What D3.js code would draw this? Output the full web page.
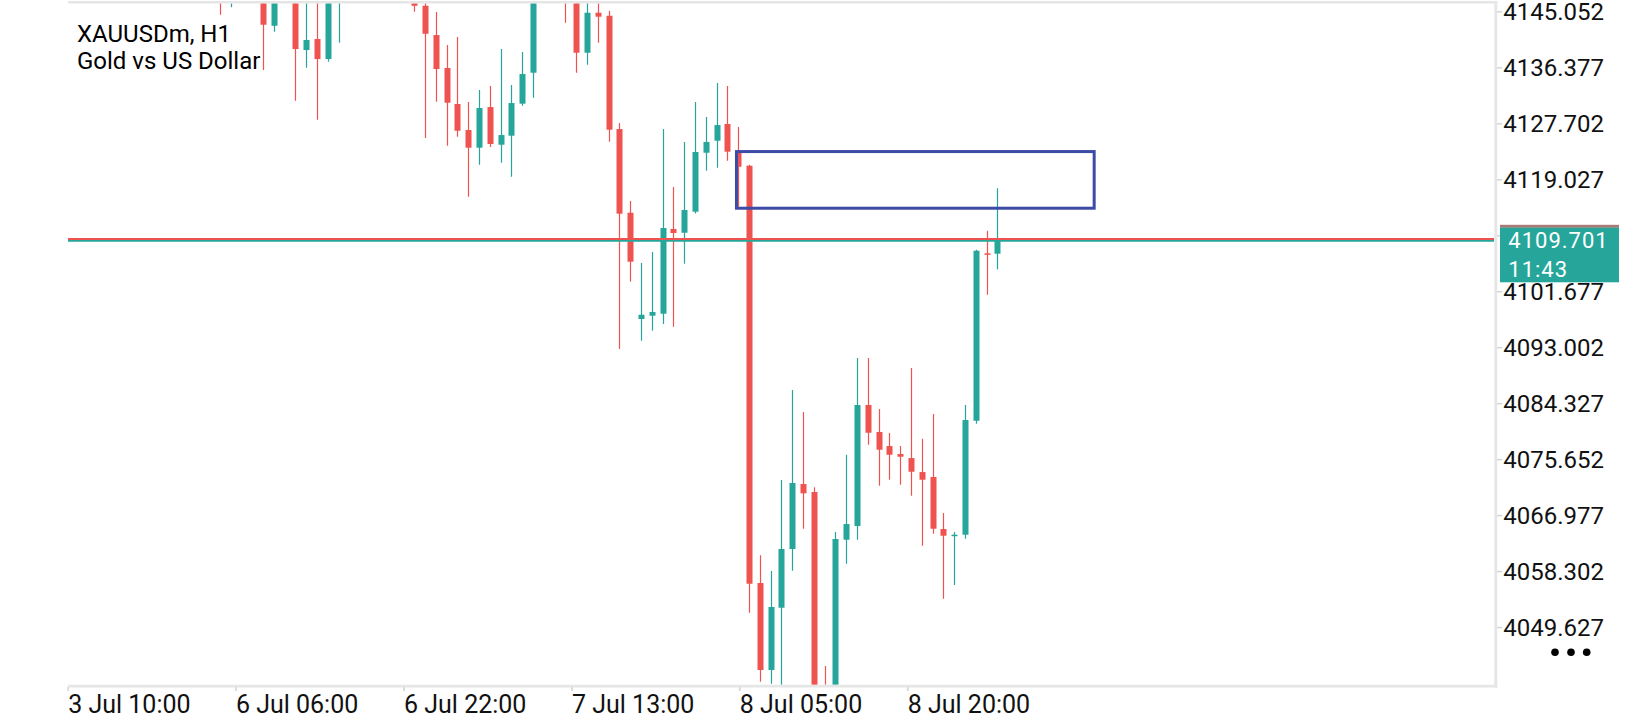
<!DOCTYPE html>
<html>
<head>
<meta charset="utf-8">
<script src="https://cdn.jsdelivr.net/npm/d3@7"></script>
<style>
  html, body { margin: 0; padding: 0; background: #ffffff; }
  svg { display: block; font-family: Roboto, "Noto Sans", sans-serif; }
</style>
</head>
<body>
<svg id="chart" width="1640" height="720"></svg>
<script>
// ---------------- DATA ----------------
const symbolTitle = "XAUUSDm, H1";
const symbolName = "Gold vs US Dollar";

// H1 candles, oldest first (bars left of the view's top edge are partly off-screen)
const opens = [
  4158.2, 4160.1, 4159.3, 4156.6, 4157.8, 4161.4, 4160.2, 4157.5, 4155.0, 4153.1,
  4154.7, 4151.4, 4149.8, 4150.3, 4147.2, 4150.5, 4151.8, 4149.0, 4142.90, 4148.6,
  4150.6, 4139.14, 4140.84, 4137.74, 4147.6, 4150.2, 4152.5, 4154.8, 4153.4, 4151.2,
  4149.6, 4148.3, 4146.00, 4141.46, 4136.35, 4130.77, 4126.74, 4124.00, 4130.30, 4124.46,
  4125.86, 4130.82, 4135.62, 4147.5, 4149.9, 4148.2, 4147.0, 4138.72, 4144.92, 4144.45,
  4126.89, 4113.92, 4097.45, 4097.96, 4098.27, 4111.40, 4110.82, 4114.08, 4123.22, 4125.08,
  4127.67, 4123.38, 4121.21, 4056.53, 4043.05, 4052.70, 4061.80, 4071.87, 4070.63, 4039.50,
  4033.40, 4063.24, 4065.36, 4084.12, 4079.93, 4077.76, 4076.52, 4075.90, 4073.73, 4072.96,
  4064.90, 4063.81, 4064.02, 4081.68, 4107.63, 4107.57
];
const highs = [
  4161.0, 4163.5, 4160.8, 4158.4, 4162.2, 4164.0, 4161.7, 4159.3, 4156.6, 4155.9,
  4156.3, 4153.0, 4151.2, 4151.0, 4151.5, 4152.8, 4153.0, 4150.2, 4150.0, 4151.5,
  4151.8, 4147.5, 4147.3, 4149.0, 4151.6, 4153.9, 4156.0, 4157.2, 4155.0, 4152.9,
  4151.3, 4149.0, 4146.9, 4145.03, 4139.91, 4141.15, 4131.08, 4132.94, 4133.56, 4139.29,
  4133.71, 4138.83, 4149.0, 4150.8, 4151.4, 4149.5, 4148.6, 4147.2, 4146.8, 4145.18,
  4127.82, 4115.74, 4106.13, 4107.83, 4126.89, 4117.91, 4124.88, 4131.08, 4128.75, 4134.02,
  4133.56, 4127.20, 4121.36, 4060.82, 4058.39, 4072.49, 4086.44, 4083.03, 4071.36, 4043.67,
  4064.43, 4076.41, 4091.40, 4091.40, 4083.50, 4079.78, 4077.76, 4089.85, 4078.89, 4082.72,
  4067.38, 4064.43, 4084.12, 4108.19, 4111.13, 4117.70
];
const lows = [
  4156.4, 4158.9, 4155.7, 4153.9, 4156.9, 4159.5, 4156.8, 4154.2, 4151.8, 4151.2,
  4150.6, 4148.9, 4147.6, 4144.61, 4145.76, 4148.6, 4147.9, 4136.04, 4141.97, 4147.2,
  4131.28, 4136.40, 4128.34, 4137.33, 4140.27, 4148.3, 4151.0, 4152.6, 4150.1, 4148.5,
  4147.4, 4145.07, 4125.50, 4131.13, 4124.31, 4125.70, 4116.40, 4121.36, 4124.10, 4121.67,
  4119.50, 4130.50, 4131.75, 4146.6, 4147.0, 4143.37, 4135.62, 4136.86, 4140.27, 4124.93,
  4092.80, 4103.23, 4094.08, 4095.63, 4096.67, 4096.25, 4106.02, 4113.80, 4120.43, 4120.90,
  4121.98, 4114.85, 4051.93, 4041.23, 4040.92, 4040.30, 4058.44, 4064.95, 4036.80, 4031.50,
  4031.80, 4059.52, 4063.24, 4077.96, 4071.61, 4072.54, 4071.76, 4070.06, 4062.31, 4064.17,
  4054.10, 4056.22, 4063.40, 4081.22, 4101.21, 4105.15
];
const closes = [
  4160.1, 4159.3, 4156.6, 4157.8, 4161.4, 4160.2, 4157.5, 4155.0, 4153.1, 4154.7,
  4151.4, 4149.8, 4150.3, 4147.2, 4150.5, 4151.8, 4149.0, 4143.06, 4148.6, 4150.8,
  4139.29, 4140.69, 4137.74, 4147.8, 4150.2, 4152.5, 4154.8, 4153.4, 4151.2, 4149.6,
  4148.3, 4146.00, 4141.66, 4136.19, 4130.97, 4126.63, 4124.00, 4130.15, 4124.57, 4125.96,
  4130.92, 4135.42, 4147.5, 4149.9, 4148.2, 4147.0, 4138.72, 4144.92, 4144.30, 4126.79,
  4113.77, 4106.33, 4098.11, 4098.53, 4111.55, 4110.78, 4114.34, 4123.33, 4124.88, 4127.51,
  4123.38, 4121.05, 4056.42, 4043.05, 4052.81, 4061.80, 4072.03, 4070.43, 4039.00, 4033.00,
  4063.35, 4065.67, 4084.12, 4079.82, 4077.19, 4076.41, 4076.10, 4073.78, 4072.54, 4064.95,
  4063.86, 4064.02, 4081.79, 4108.03, 4107.41, 4109.70
];

// price axis
const yTicks = [4145.052, 4136.377, 4127.702, 4119.027, 4110.352, 4101.677,
                4093.002, 4084.327, 4075.652, 4066.977, 4058.302, 4049.627];
// time axis: labels and the bar slot they sit at
const xTickLabels = ["3 Jul 10:00", "6 Jul 06:00", "6 Jul 22:00", "7 Jul 13:00", "8 Jul 05:00", "8 Jul 20:00"];
const xTickSlots  = [-1.04, 14.49, 30.06, 45.61, 61.15, 76.70];

// rectangle object (bar slots and prices)
const zoneSlots = [60.84, 93.96];
const zonePrices = [4123.40, 4114.62];

// price lines
const askLine = 4109.86;
const bidLine = 4109.56;
const bidLabel = "4109.701";
const barCountdown = "11:43";

// view window
const slotDomain = [-1.056, 131.01];
const priceDomain = [4040.77, 4146.38];

// ---------------- DRAW ----------------
const W = 1640, H = 720;
const plot = { left: 68, right: 1494.3, top: 3.3, bottom: 684.7 };
const UP = "#26a69a", DOWN = "#ef5350", FRAME = "#e6e6e6";

const svg = d3.select("#chart");
svg.append("rect").attr("width", W).attr("height", H).attr("fill", "#fff");

const x = d3.scaleLinear().domain(slotDomain).range([plot.left, plot.right]);
const y = d3.scaleLinear().domain(priceDomain).range([plot.bottom, plot.top]);

svg.append("clipPath").attr("id", "plotclip")
  .append("rect")
  .attr("x", plot.left).attr("y", plot.top)
  .attr("width", plot.right - plot.left).attr("height", plot.bottom - plot.top);

const candles = opens.map((o, i) => ({ i, o, h: highs[i], l: lows[i], c: closes[i] }));

const g = svg.append("g").attr("clip-path", "url(#plotclip)");

const cg = g.selectAll("g.candle").data(candles).join("g").attr("class", "candle");
cg.append("line")
  .attr("x1", d => Math.round(x(d.i)) + 0.5)
  .attr("x2", d => Math.round(x(d.i)) + 0.5)
  .attr("y1", d => y(d.h))
  .attr("y2", d => y(d.l))
  .attr("stroke", d => d.c >= d.o ? UP : DOWN)
  .attr("stroke-width", 1.2);
cg.append("rect")
  .attr("x", d => Math.round(x(d.i)) + 0.5 - 3)
  .attr("width", 6)
  .attr("y", d => y(Math.max(d.o, d.c)))
  .attr("height", d => Math.max(1.5, Math.abs(y(d.o) - y(d.c))))
  .attr("fill", d => d.c >= d.o ? UP : DOWN);

// rectangle zone
g.append("rect")
  .attr("x", x(zoneSlots[0]))
  .attr("y", y(zonePrices[0]))
  .attr("width", x(zoneSlots[1]) - x(zoneSlots[0]))
  .attr("height", y(zonePrices[1]) - y(zonePrices[0]))
  .attr("fill", "none")
  .attr("stroke", "#3d4ba6")
  .attr("stroke-width", 3);

// bid / ask lines
g.append("line")
  .attr("x1", plot.left).attr("x2", plot.right)
  .attr("y1", y(bidLine)).attr("y2", y(bidLine))
  .attr("stroke", UP).attr("stroke-width", 2);
g.append("line")
  .attr("x1", plot.left).attr("x2", plot.right)
  .attr("y1", y(askLine)).attr("y2", y(askLine))
  .attr("stroke", DOWN).attr("stroke-width", 2);

// frame
svg.append("line").attr("x1", plot.left).attr("x2", 1497.3).attr("y1", 2.2).attr("y2", 2.2)
  .attr("stroke", FRAME).attr("stroke-width", 2.4);
svg.append("line").attr("x1", plot.left).attr("x2", 1497.3).attr("y1", 686.1).attr("y2", 686.1)
  .attr("stroke", FRAME).attr("stroke-width", 2.8);
svg.append("line").attr("x1", 1495.8).attr("x2", 1495.8).attr("y1", 1).attr("y2", 687.5)
  .attr("stroke", FRAME).attr("stroke-width", 3);

// current price label box extent (labels hidden beneath it are not drawn)
const boxTop = 224.8, boxBottom = 282.3;

// price axis
const ya = svg.append("g");
yTicks.forEach(v => {
  const yy = y(v);
  ya.append("line").attr("x1", 1497).attr("x2", 1502).attr("y1", yy).attr("y2", yy)
    .attr("stroke", "#d4d4d4").attr("stroke-width", 1.5);
  if (yy > boxTop - 4 && yy < boxBottom - 4) return; // covered by price label
  ya.append("text").attr("x", 1503.3).attr("y", yy + 8.5)
    .attr("font-size", 24).attr("fill", "#111").text(d3.format(".3f")(v));
});

// time axis
const xa = svg.append("g");
xTickLabels.forEach((lab, k) => {
  const xx = x(xTickSlots[k]);
  xa.append("line").attr("x1", xx).attr("x2", xx).attr("y1", 687).attr("y2", 691)
    .attr("stroke", "#dcdcdc").attr("stroke-width", 2);
  xa.append("text").attr("x", xx).attr("y", 713)
    .attr("font-size", 25).attr("fill", "#111").text(lab);
});

// current price label
const lbl = svg.append("g");
lbl.append("rect").attr("x", 1500).attr("y", boxTop).attr("width", 119).attr("height", 3)
  .attr("fill", "#a97a76");
lbl.append("rect").attr("x", 1500).attr("y", boxTop + 2.8).attr("width", 119).attr("height", boxBottom - boxTop - 2.8)
  .attr("fill", UP);
lbl.append("text").attr("x", 1508.3).attr("y", 248.3).attr("font-size", 22)
  .attr("letter-spacing", 1).attr("fill", "#fff").text(bidLabel);
lbl.append("text").attr("x", 1508.3).attr("y", 276.7).attr("font-size", 22)
  .attr("letter-spacing", 1).attr("fill", "#fff").text(barCountdown);

// menu dots
[1555, 1571, 1586.7].forEach(cx => {
  svg.append("circle").attr("cx", cx).attr("cy", 652.3).attr("r", 3.8).attr("fill", "#000");
});

// title
svg.append("text").attr("x", 77).attr("y", 42.3).attr("font-size", 24).attr("fill", "#000").text(symbolTitle);
svg.append("text").attr("x", 77).attr("y", 69.3).attr("font-size", 24).attr("fill", "#000").text(symbolName);
</script>
</body>
</html>
